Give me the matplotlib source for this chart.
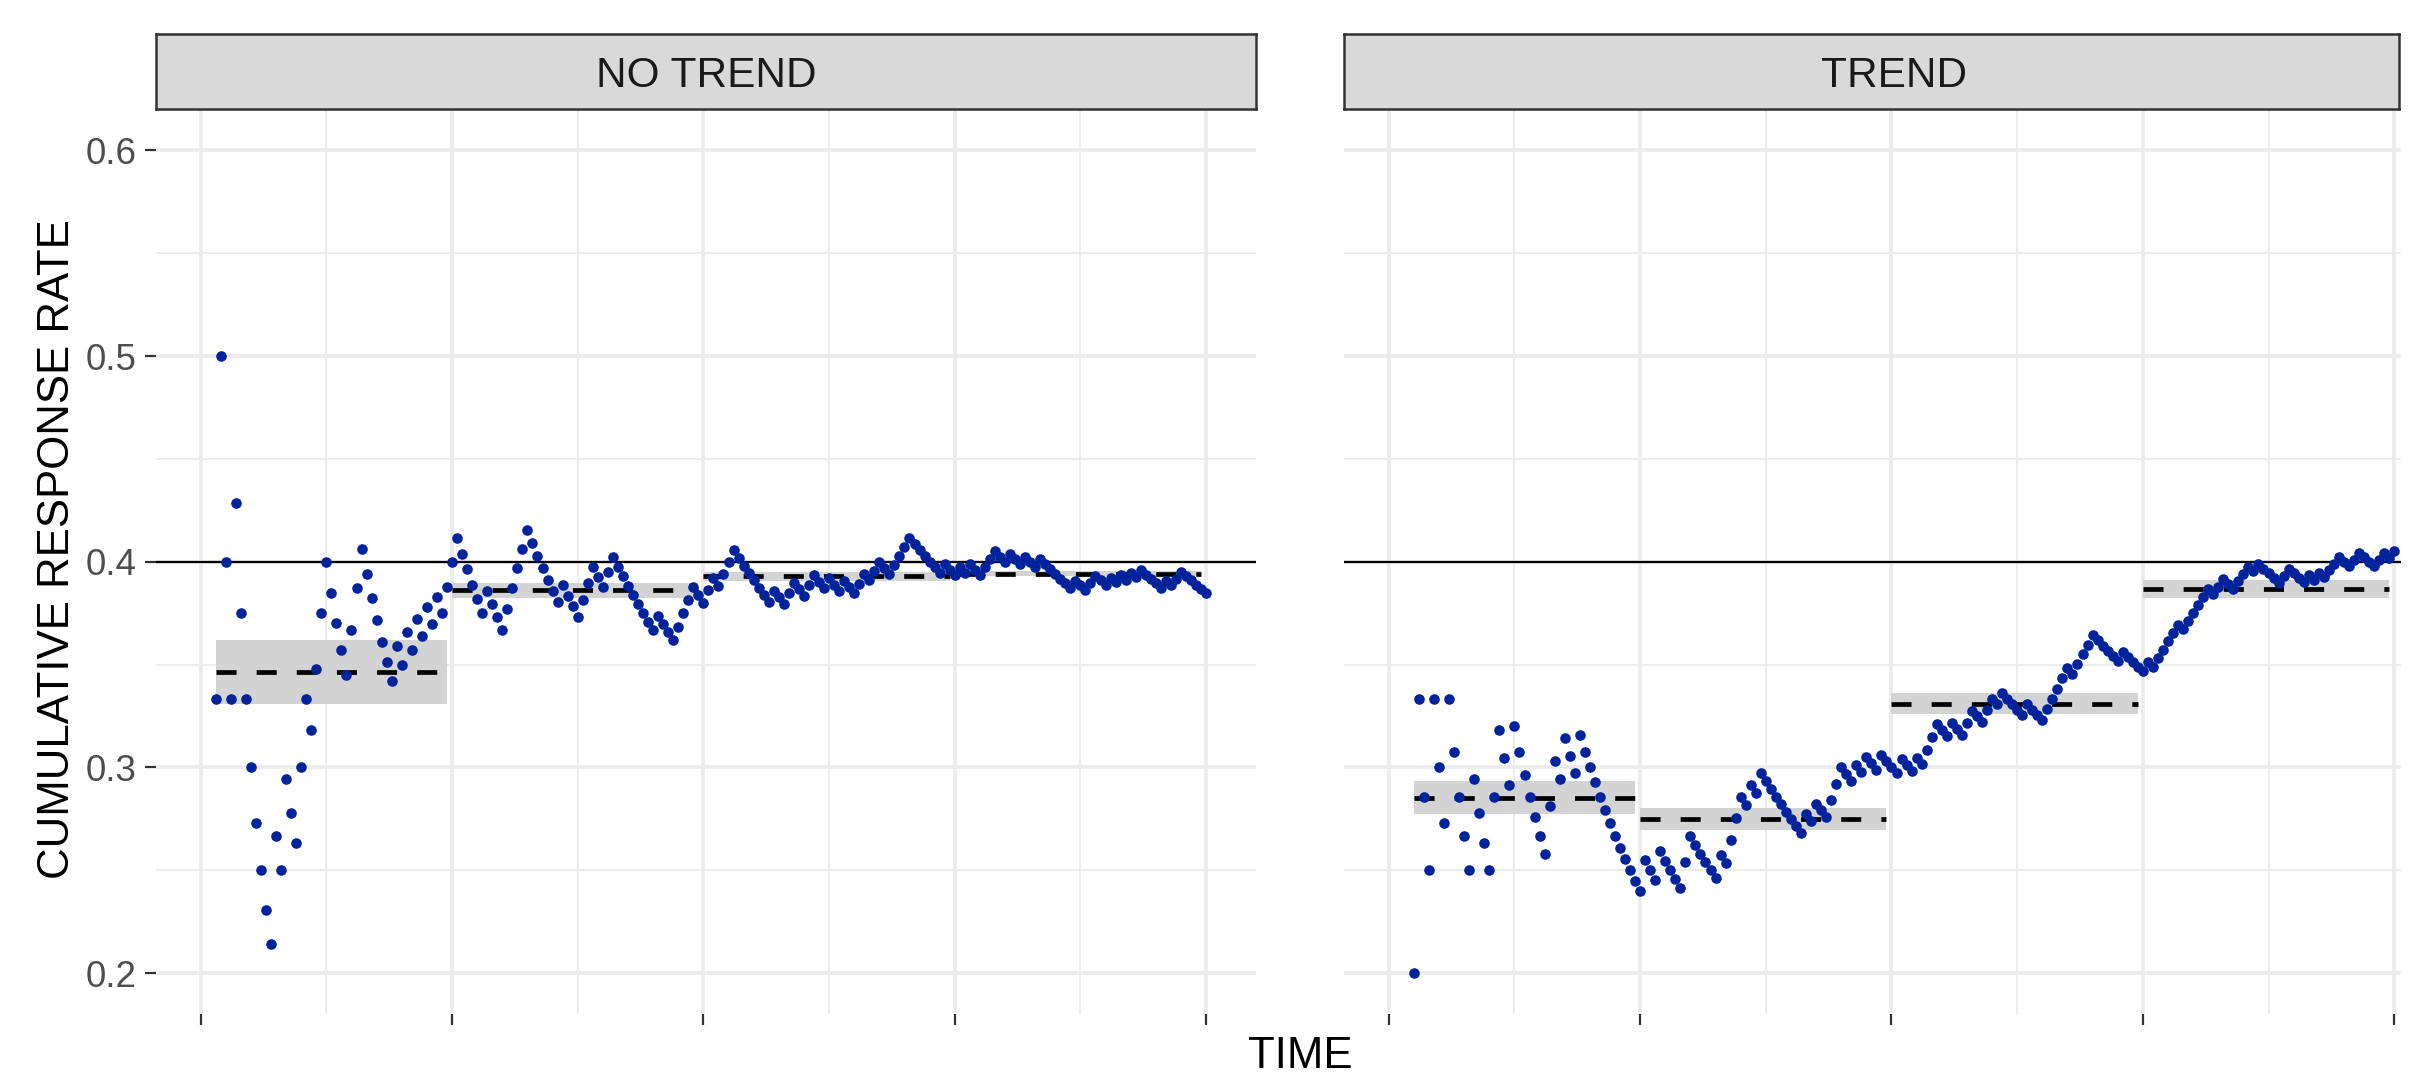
import numpy as np
import matplotlib
matplotlib.use("Agg")
import matplotlib.pyplot as plt
from matplotlib.patches import Rectangle
from matplotlib.ticker import MultipleLocator, FormatStrFormatter

plt.rcParams['font.family'] = ['Liberation Sans', 'DejaVu Sans']

# responses (1 = response, 0 = none) for time steps 1..200
no_trend_responses = [
    0, 0, 1, 1, 0, 0, 1, 0, 0, 0,
    0, 0, 0, 0, 1, 0, 1, 0, 0, 1,
    1, 0, 1, 1, 1, 0, 0, 0, 0, 1,
    1, 1, 0, 0, 0, 0, 0, 0, 1, 0,
    1, 0, 1, 0, 1, 0, 1, 0, 1, 1,
    1, 0, 0, 0, 0, 0, 1, 0, 0, 0,
    1, 1, 1, 1, 1, 0, 0, 0, 0, 0,
    0, 1, 0, 0, 0, 1, 1, 1, 0, 0,
    1, 1, 0, 0, 0, 0, 0, 0, 0, 0,
    1, 0, 0, 0, 1, 1, 1, 1, 0, 0,
    1, 1, 0, 1, 1, 1, 0, 0, 0, 0,
    0, 0, 0, 1, 0, 0, 1, 1, 0, 0,
    1, 1, 0, 0, 1, 0, 0, 1, 0, 0,
    1, 1, 0, 1, 1, 0, 0, 1, 1, 1,
    1, 0, 0, 0, 0, 0, 0, 1, 0, 0,
    1, 0, 1, 0, 0, 1, 1, 1, 0, 0,
    1, 0, 0, 1, 0, 0, 1, 0, 0, 0,
    0, 0, 0, 1, 0, 0, 1, 1, 0, 0,
    1, 0, 1, 0, 1, 0, 1, 0, 0, 0,
    0, 1, 0, 1, 1, 0, 0, 0, 0, 0,
]

trend_responses = [
    0, 0, 0, 0, 1, 1, 0, 0, 1, 0,
    0, 1, 0, 0, 0, 0, 1, 0, 0, 0,
    1, 1, 0, 0, 1, 0, 0, 0, 0, 0,
    0, 1, 1, 0, 1, 0, 0, 1, 0, 0,
    0, 0, 0, 0, 0, 0, 0, 0, 0, 0,
    1, 0, 0, 1, 0, 0, 0, 0, 1, 1,
    0, 0, 0, 0, 0, 1, 0, 1, 1, 1,
    0, 1, 0, 1, 0, 0, 0, 0, 0, 0,
    0, 0, 1, 0, 1, 0, 0, 1, 1, 1,
    0, 0, 1, 0, 1, 0, 0, 1, 0, 0,
    0, 1, 0, 0, 1, 0, 1, 1, 1, 0,
    0, 1, 0, 0, 1, 1, 0, 0, 1, 1,
    0, 1, 0, 0, 0, 0, 1, 0, 0, 0,
    1, 1, 1, 1, 1, 0, 1, 1, 1, 1,
    0, 0, 0, 0, 0, 1, 0, 0, 0, 0,
    1, 0, 1, 1, 1, 1, 1, 0, 1, 1,
    1, 1, 1, 0, 1, 1, 0, 0, 1, 1,
    1, 0, 1, 0, 0, 0, 0, 1, 1, 0,
    0, 0, 1, 0, 1, 0, 1, 1, 1, 0,
    0, 1, 1, 0, 0, 0, 1, 1, 0, 1,
]

panel_titles = ["NO TREND", "TREND"]
panel_responses = [no_trend_responses, trend_responses]
target_rate = 0.4
period_length = 50
y_limits = (0.2, 0.6)

point_color = '#00239C'
W, H = 2430, 1076

fig = plt.figure(figsize=(W / 100, H / 100), dpi=100)

# panel geometry in pixels
panel_top, panel_bottom = 109.2, 1014.2
panel_w = 1100.4
panel_lefts = [155.7, 1343.8]
strip_top = 34.0
visible_right = 2399.0   # the picture is cut off here


def cumulative_rate(responses):
    r = np.array(responses)
    t = np.arange(1, len(r) + 1)
    rate = np.cumsum(r) / t
    keep = (rate >= y_limits[0]) & (rate <= y_limits[1])
    return t[keep], rate[keep]


n_steps = len(no_trend_responses)
x_span = n_steps - 1
x_lim = (1 - 0.05 * x_span, n_steps + 0.05 * x_span)
y_span = y_limits[1] - y_limits[0]
y_lim = (y_limits[0] - 0.05 * y_span, y_limits[1] + 0.05 * y_span)

for i, (title, responses) in enumerate(zip(panel_titles, panel_responses)):
    left = panel_lefts[i] / W
    ax = fig.add_axes([left, (H - panel_bottom) / H, panel_w / W,
                       (panel_bottom - panel_top) / H])
    t, rate = cumulative_rate(responses)

    # period means with 95% band
    groups = t // period_length
    for g in np.unique(groups):
        sel = groups == g
        if sel.sum() < 2:
            continue
        tt, rr = t[sel], rate[sel]
        m = rr.mean()
        half = 1.96 * rr.std(ddof=1) / np.sqrt(len(rr))
        ax.fill_between([tt[0], tt[-1]], m - half, m + half,
                        color='#D3D3D3', lw=0, zorder=2)
        ax.plot([tt[0], tt[-1]], [m, m], color='black', lw=3.4,
                dashes=(4.25, 4.25), solid_capstyle='butt', zorder=3)

    ax.axhline(target_rate, color='black', lw=1.6, zorder=3)
    ax.scatter(t, rate, s=58, color=point_color, linewidths=0, zorder=4)

    ax.set_xlim(*x_lim)
    ax.set_ylim(*y_lim)
    ax.xaxis.set_major_locator(MultipleLocator(50))
    ax.xaxis.set_minor_locator(MultipleLocator(25))
    ax.yaxis.set_major_locator(MultipleLocator(0.1))
    ax.yaxis.set_minor_locator(MultipleLocator(0.05))
    ax.yaxis.set_major_formatter(FormatStrFormatter('%.1f'))
    ax.set_axisbelow(True)
    ax.grid(which='major', color='#EBEBEB', lw=2.6)
    ax.grid(which='minor', color='#EBEBEB', lw=1.3)
    for s in ax.spines.values():
        s.set_visible(False)
    ax.tick_params(axis='both', which='minor', length=0)
    ax.tick_params(axis='x', which='major', length=7.9, width=1.6,
                   color='#333333', labelbottom=False)
    if i == 0:
        ax.tick_params(axis='y', which='major', length=7.9, width=1.6,
                       color='#333333', labelsize=26.5,
                       labelcolor='#4D4D4D', pad=5.8)
    else:
        ax.tick_params(axis='y', which='major', left=False, labelleft=False)

    # facet strip
    strip_w = min(panel_w, visible_right - panel_lefts[i])
    sax = fig.add_axes([left, (H - panel_top) / H, strip_w / W,
                        (panel_top - strip_top) / H])
    sax.set_facecolor('#D9D9D9')
    sax.set_xticks([])
    sax.set_yticks([])
    for s in sax.spines.values():
        s.set_color('#333333')
        s.set_linewidth(1.8)
    fig.text((panel_lefts[i] + panel_w / 2) / W, (H - 86.7) / H, title,
             ha='center', va='baseline', fontsize=30.5, color='#1A1A1A')

# white margin where the original picture was cut
fig.patches.append(Rectangle(((visible_right + 1.5) / W, 0), 1, 1,
                             transform=fig.transFigure, facecolor='white',
                             edgecolor='none', zorder=10))

fig.text((panel_lefts[0] + panel_lefts[1] + panel_w) / 2 / W, (H - 1068.3) / H,
         'TIME', ha='center', va='baseline', fontsize=31.5, color='black')
fig.text(69.5 / W, (H - 549) / H, 'CUMULATIVE RESPONSE RATE', rotation=90,
         rotation_mode='anchor', ha='center', va='baseline', fontsize=31.5,
         color='black')

fig.savefig('out.png', dpi=100)
